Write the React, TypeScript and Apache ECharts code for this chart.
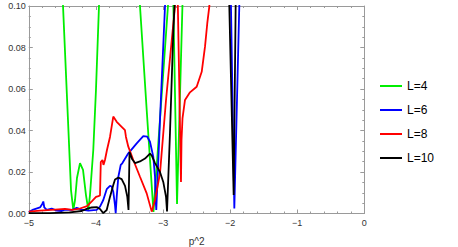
import { useEffect, useRef } from "react";
import * as echarts from "echarts";

// ---- data (p^2, value) ----
const xTickLabels = [-5, -4, -3, -2, -1, 0];
const yTickLabels = [0, 0.02, 0.04, 0.06, 0.08, 0.1];
const legendNames = ["L=4", "L=6", "L=8", "L=10"];

const green1 = [
  [-4.505, 0.11], [-4.49, 0.1], [-4.416, 0.0451], [-4.371, 0.0113], [-4.337, 0.0017],
  [-4.311, 0.0065], [-4.282, 0.0171], [-4.237, 0.0243], [-4.192, 0.021], [-4.148, 0.0089],
  [-4.113, 0.0017], [-4.088, 0.0089], [-4.039, 0.0306], [-3.999, 0.0595], [-3.954, 0.1], [-3.939, 0.11],
];
const green2 = [
  [-3.358, 0.11], [-3.343, 0.1], [-3.243, 0.0499], [-3.142, 0.0007], [-2.926, 0.1], [-2.911, 0.11],
];
const green3 = [[-2.851, 0.11], [-2.791, 0.0046], [-2.702, 0.11]];

const blue1 = [
  [-5.0, 0.0007], [-4.933, 0.0019], [-4.833, 0.0029], [-4.799, 0.0046], [-4.784, 0.0058],
  [-4.769, 0.0029], [-4.733, 0.0017], [-4.659, 0.0024], [-4.584, 0.0014], [-4.51, 0.0012],
  [-4.461, 0.0019], [-4.361, 0.0017], [-4.286, 0.0027], [-4.212, 0.0019], [-4.113, 0.0014],
  [-3.988, 0.0017], [-3.939, 0.0033], [-3.89, 0.0065], [-3.839, 0.0117], [-3.79, 0.0133],
  [-3.765, 0.013], [-3.741, 0.0105], [-3.716, 0.0041], [-3.705, 0.0002], [-3.69, 0.008],
  [-3.666, 0.0176], [-3.63, 0.0234], [-3.607, 0.0242], [-3.517, 0.029], [-3.392, 0.0338],
  [-3.294, 0.0373], [-3.234, 0.037], [-3.194, 0.0346], [-3.145, 0.0274], [-3.119, 0.0177],
  [-3.109, 0.0065], [-3.1, 0.0017], [-3.045, 0.0451], [-2.97, 0.1], [-2.955, 0.11],
];
const blue2 = [[-1.991, 0.11], [-1.987, 0.1], [-1.937, 0.0024], [-1.863, 0.1], [-1.855, 0.11]];

const red1 = [
  [-5.0, 0.0009], [-4.833, 0.0014], [-4.61, 0.0019], [-4.461, 0.0022], [-4.356, 0.0017],
  [-4.237, 0.0024], [-4.132, 0.0036], [-4.058, 0.006], [-3.998, 0.008], [-3.961, 0.0084],
  [-3.939, 0.0087], [-3.927, 0.0248], [-3.902, 0.0258], [-3.887, 0.0234], [-3.865, 0.0258],
  [-3.835, 0.0306], [-3.79, 0.0369], [-3.741, 0.0467], [-3.69, 0.0442], [-3.616, 0.0418],
  [-3.567, 0.0402], [-3.552, 0.0369], [-3.517, 0.0322], [-3.443, 0.0258], [-3.343, 0.0177],
  [-3.243, 0.0097], [-3.168, 0.0009], [-3.119, 0.0065], [-3.045, 0.0193], [-2.955, 0.0547],
  [-2.821, 0.1], [-2.814, 0.11],
];
const red2 = [
  [-2.784, 0.11], [-2.732, 0.0152], [-2.724, 0.0354], [-2.709, 0.046], [-2.672, 0.0547],
  [-2.598, 0.0584], [-2.498, 0.0611], [-2.423, 0.0683], [-2.374, 0.0804], [-2.34, 0.0917],
  [-2.31, 0.0997], [-2.292, 0.11],
];

const black1 = [
  [-5.0, 0.0002], [-4.684, 0.0002], [-4.386, 0.0005], [-4.212, 0.0012], [-4.137, 0.0022],
  [-4.063, 0.0029], [-3.988, 0.0031], [-3.939, 0.0022], [-3.89, 0.0002], [-3.839, 0.0017],
  [-3.79, 0.008], [-3.741, 0.0137], [-3.715, 0.0164], [-3.666, 0.0173], [-3.616, 0.0166],
  [-3.566, 0.0133], [-3.532, 0.008], [-3.514, 0.0017], [-3.499, 0.0296], [-3.462, 0.0263],
  [-3.417, 0.0243], [-3.343, 0.0251], [-3.268, 0.0265], [-3.194, 0.0289], [-3.164, 0.0277],
  [-3.119, 0.0243], [-3.045, 0.02], [-2.996, 0.0152], [-2.955, 0.008], [-2.94, 0.001],
  [-2.896, 0.0388], [-2.847, 0.087], [-2.829, 0.1], [-2.821, 0.11],
];
const black2 = [[-2.019, 0.11], [-1.947, 0.0089], [-1.914, 0.11]];

const FONT = "Liberation Sans, Arial, sans-serif";
const FRAME = "#9a9a9a";

export default function App() {
  const ref = useRef<HTMLDivElement>(null);
  useEffect(() => {
    const chart = echarts.init(ref.current!, null, { renderer: "svg" });
    const xMin = xTickLabels[0];
    const xMax = xTickLabels[xTickLabels.length - 1];
    const yMin = yTickLabels[0];
    const yMax = yTickLabels[yTickLabels.length - 1];
    const common = {
      axisLine: { show: true, onZero: false, lineStyle: { color: FRAME, width: 1 } },
      axisTick: { show: true, inside: true, length: 4, lineStyle: { color: FRAME } },
      splitLine: { show: false },
      minorSplitLine: { show: false },
    };
    const xBase = {
      ...common,
      type: "value",
      min: xMin,
      max: xMax,
      interval: 1,
      minorTick: { show: true, splitNumber: 5, length: 2, lineStyle: { color: FRAME } },
    };
    const yBase = {
      ...common,
      type: "value",
      min: yMin,
      max: yMax,
      interval: 0.02,
      minorTick: { show: true, splitNumber: 4, length: 2, lineStyle: { color: FRAME } },
    };
    const mk = (name: string, color: string, data: number[][]) => ({
      type: "line",
      name,
      data,
      symbol: "none",
      showSymbol: false,
      clip: true,
      silent: true,
      lineStyle: { color, width: 1.8 },
      itemStyle: { color },
      emphasis: { disabled: true },
    });
    chart.setOption({
      animation: false,
      grid: {
        left: 28.8,
        right: 93.7,
        top: 6,
        bottom: 33.5,
        containLabel: false,
        outerBoundsMode: "none",
      },
      legend: {
        orient: "vertical",
        left: 375,
        top: 74,
        icon: "rect",
        itemWidth: 22,
        itemHeight: 2,
        itemGap: 10,
        data: legendNames,
        textStyle: { fontSize: 12, lineHeight: 14, color: "#000", fontFamily: FONT },
        selectedMode: false,
      },
      xAxis: [
        {
          ...xBase,
          position: "bottom",
          name: "p^2",
          nameLocation: "middle",
          nameGap: 23,
          nameTextStyle: { fontSize: 10, color: "#333", fontFamily: FONT },
          axisLabel: {
            show: true,
            margin: 5,
            fontSize: 9,
            color: "#333",
            fontFamily: FONT,
            showMinLabel: true,
            showMaxLabel: true,
            formatter: (v: number) => (v < 0 ? "\u2212" + Math.abs(v) : String(v)),
          },
        },
        { ...xBase, position: "top", axisLabel: { show: false } },
      ],
      yAxis: [
        {
          ...yBase,
          position: "left",
          axisLabel: {
            show: true,
            margin: 3,
            fontSize: 9,
            color: "#333",
            fontFamily: FONT,
            showMinLabel: true,
            showMaxLabel: true,
            formatter: (v: number) => v.toFixed(2),
          },
        },
        { ...yBase, position: "right", axisLabel: { show: false } },
      ],
      series: [
        mk(legendNames[0], "#00ee00", green1),
        mk(legendNames[0], "#00ee00", green2),
        mk(legendNames[0], "#00ee00", green3),
        mk(legendNames[1], "#0000ff", blue1),
        mk(legendNames[1], "#0000ff", blue2),
        mk(legendNames[2], "#ff0000", red1),
        mk(legendNames[2], "#ff0000", red2),
        mk(legendNames[3], "#000000", black1),
        mk(legendNames[3], "#000000", black2),
      ],
    });
    return () => chart.dispose();
  }, []);
  return (
    <div
      ref={ref}
      style={{ position: "fixed", left: 0, top: 0, width: 458, height: 247, background: "#fff" }}
    />
  );
}
